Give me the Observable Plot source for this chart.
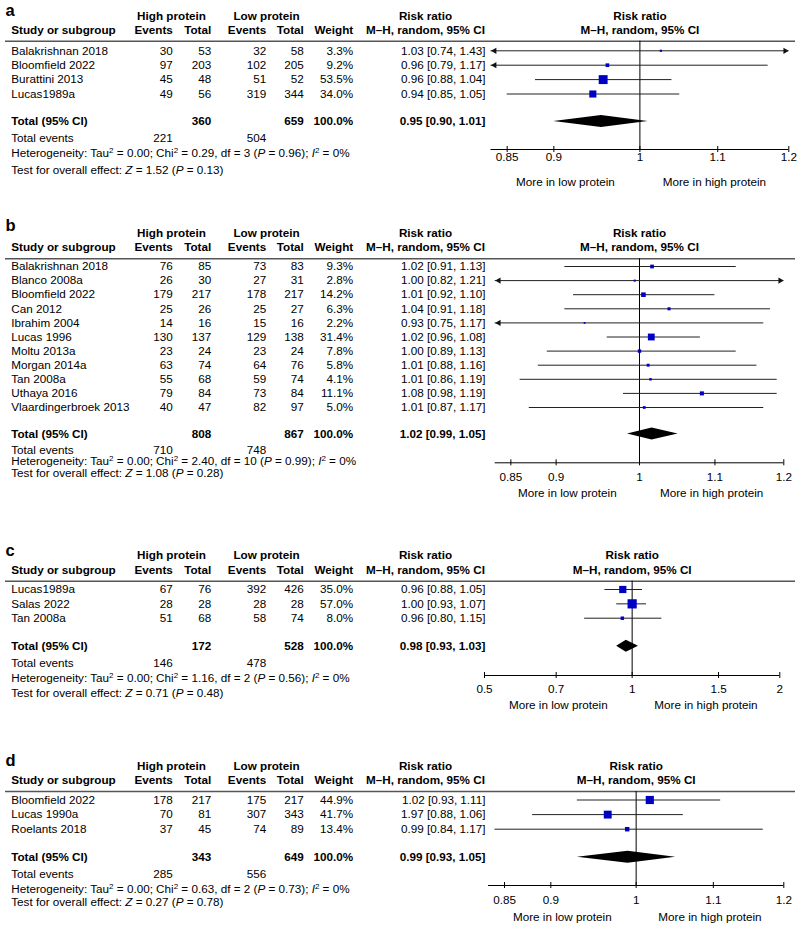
<!DOCTYPE html>
<html><head><meta charset="utf-8">
<script src="https://cdn.jsdelivr.net/npm/d3@7"></script>
<script src="https://cdn.jsdelivr.net/npm/@observablehq/plot@0.6"></script>
<style>
body{margin:0;background:#fff;}
#chart{width:798px;}
#chart svg{display:block;}
</style></head><body><div id="chart"></div>
<script>
// ---------- Panel a ----------
const studiesA = ["Balakrishnan 2018","Bloomfield 2022","Burattini 2013","Lucas1989a"];
const highEventsA = [30, 97, 45, 49];
const highTotalA  = [53, 203, 48, 56];
const lowEventsA  = [32, 102, 51, 319];
const lowTotalA   = [58, 205, 52, 344];
const weightA     = [3.3, 9.2, 53.5, 34.0];
const rrA         = [1.03, 0.96, 0.96, 0.94];
const lowerA      = [0.74, 0.79, 0.88, 0.85];
const upperA      = [1.43, 1.17, 1.04, 1.05];
const pointA      = [1.026, 0.961, 0.956, 0.944];
const totalA = {high:360, low:659, rr:0.95, lower:0.90, upper:1.01, point:0.954, eventsHigh:221, eventsLow:504, chi2:0.29, df:3, pHet:0.96, i2:0, z:1.52, pZ:0.13};

// ---------- Panel b ----------
const studiesB = ["Balakrishnan 2018","Blanco 2008a","Bloomfield 2022","Can 2012","Ibrahim 2004","Lucas 1996","Moltu 2013a","Morgan 2014a","Tan 2008a","Uthaya 2016","Vlaardingerbroek 2013"];
const highEventsB = [76, 26, 179, 25, 14, 130, 23, 63, 55, 79, 40];
const highTotalB  = [85, 30, 217, 26, 16, 137, 24, 74, 68, 84, 47];
const lowEventsB  = [73, 27, 178, 25, 15, 129, 23, 64, 59, 73, 82];
const lowTotalB   = [83, 31, 217, 27, 16, 138, 24, 76, 74, 84, 97];
const weightB     = [9.3, 2.8, 14.2, 6.3, 2.2, 31.4, 7.8, 5.8, 4.1, 11.1, 5.0];
const rrB         = [1.02, 1.00, 1.01, 1.04, 0.93, 1.02, 1.00, 1.01, 1.01, 1.08, 1.01];
const lowerB      = [0.91, 0.82, 0.92, 0.91, 0.75, 0.96, 0.89, 0.88, 0.86, 0.98, 0.87];
const upperB      = [1.13, 1.21, 1.10, 1.18, 1.17, 1.08, 1.13, 1.16, 1.19, 1.19, 1.17];
const pointB      = [1.016, 0.994, 1.005, 1.038, 0.933, 1.015, 1.0, 1.011, 1.014, 1.082, 1.006];
const totalB = {high:808, low:867, rr:1.02, lower:0.99, upper:1.05, point:1.016, drawLower:0.985, eventsHigh:710, eventsLow:748, chi2:2.40, df:10, pHet:0.99, i2:0, z:1.08, pZ:0.28};

// ---------- Panel c ----------
const studiesC = ["Lucas1989a","Salas 2022","Tan 2008a"];
const highEventsC = [67, 28, 51];
const highTotalC  = [76, 28, 68];
const lowEventsC  = [392, 28, 58];
const lowTotalC   = [426, 28, 74];
const weightC     = [35.0, 57.0, 8.0];
const rrC         = [0.96, 1.00, 0.96];
const lowerC      = [0.88, 0.93, 0.80];
const upperC      = [1.05, 1.07, 1.15];
const pointC      = [0.957, 1.0, 0.955];
const totalC = {high:172, low:528, rr:0.98, lower:0.93, upper:1.03, point:0.973, eventsHigh:146, eventsLow:478, chi2:1.16, df:2, pHet:0.56, i2:0, z:0.71, pZ:0.48};

// ---------- Panel d ----------
const studiesD = ["Bloomfield 2022","Lucas 1990a","Roelants 2018"];
const highEventsD = [178, 70, 37];
const highTotalD  = [217, 81, 45];
const lowEventsD  = [175, 307, 74];
const lowTotalD   = [217, 343, 89];
const weightD     = [44.9, 41.7, 13.4];
const rrD         = [1.02, 1.97, 0.99];
const lowerD      = [0.93, 0.88, 0.84];
const upperD      = [1.11, 1.06, 1.17];
const pointD      = [1.017, 0.9655, 0.989];
const totalD = {high:343, low:649, rr:0.99, lower:0.93, upper:1.05, point:0.99, eventsHigh:285, eventsLow:556, chi2:0.63, df:2, pHet:0.73, i2:0, z:0.27, pZ:0.78};

// ---------- Axis ticks ----------
const ticksNarrow = [0.85, 0.9, 1, 1.1, 1.2];
const tickLabelsNarrow = ["0.85", "0.9", "1", "1.1", "1.2"];
const ticksWide = [0.5, 0.7, 1, 1.5, 2];
const tickLabelsWide = ["0.5", "0.7", "1", "1.5", "2"];

const FONT = '"Liberation Sans", Arial, Helvetica, sans-serif';
const BLUE = "#0000c4";

const panels = [
  {label:"a", studies:studiesA, he:highEventsA, ht:highTotalA, le:lowEventsA, lt:lowTotalA, w:weightA, rr:rrA, lo:lowerA, hi:upperA, pt:pointA, total:totalA, ticks:ticksNarrow, tickLabels:tickLabelsNarrow},
  {label:"b", studies:studiesB, he:highEventsB, ht:highTotalB, le:lowEventsB, lt:lowTotalB, w:weightB, rr:rrB, lo:lowerB, hi:upperB, pt:pointB, total:totalB, ticks:ticksNarrow, tickLabels:tickLabelsNarrow},
  {label:"c", studies:studiesC, he:highEventsC, ht:highTotalC, le:lowEventsC, lt:lowTotalC, w:weightC, rr:rrC, lo:lowerC, hi:upperC, pt:pointC, total:totalC, ticks:ticksWide, tickLabels:tickLabelsWide},
  {label:"d", studies:studiesD, he:highEventsD, ht:highTotalD, le:lowEventsD, lt:lowTotalD, w:weightD, rr:rrD, lo:lowerD, hi:upperD, pt:pointD, total:totalD, ticks:ticksNarrow, tickLabels:tickLabelsNarrow}
];

// layout (absolute page pixels)
const layouts = [
  {top:0,   height:205, first:50.3,  step:14.4,  range:[490.5,788.3], domain:[1/1.2,1.2], lab:10,  h1:15.7,  h2:30,    rule:40.7,  total:121,   te:137.3, het:152.3, test:169.3, axis:149,   tl:157,   more:181.7},
  {top:205, height:330, first:266,   step:14.1,  range:[494.7,783.3], domain:[1/1.2,1.2], lab:225, h1:232.7, h2:246.7, rule:258.3, total:433.5, te:449.5, het:461,   test:472.5, axis:462.3, tl:476.7, more:492.7},
  {top:535, height:210, first:589,   step:14.35, range:[484,779.3],   domain:[0.5,2],     lab:550, h1:555,   h2:570,   rule:580.7, total:645.7, te:662.7, het:677.5, test:692.3, axis:675,   tl:688.3, more:705},
  {top:745, height:181, first:799.5, step:14.6,  range:[488,783.3],   domain:[1/1.2,1.2], lab:760, h1:765.7, h2:779.3, rule:791,   total:856.7, te:873.3, het:888.3, test:901.7, axis:885,   tl:900,   more:916.7}
];

// column anchors (px)
const COL = {name:10.7, he:172.3, ht:210.7, le:265.7, lt:303.3, w:352.7, rr:485, highHead:171, lowHead:266, rrHead:425};

function richify(svg){
  const ns = "http://www.w3.org/2000/svg";
  svg.querySelectorAll("text").forEach(t => {
    const s = t.textContent;
    if (!/[*^]/.test(s)) return;
    const segs = [];
    let buf = "", italic = false;
    for (let i = 0; i < s.length; i++) {
      const ch = s[i];
      if (ch === "*") { if (buf) segs.push({text:buf, italic}); buf = ""; italic = !italic; }
      else if (ch === "^") { if (buf) segs.push({text:buf, italic}); buf = ""; segs.push({text:s[i+1], italic:false, sup:true}); i++; }
      else buf += ch;
    }
    if (buf) segs.push({text:buf, italic});
    t.textContent = "";
    let prevSup = false;
    segs.forEach(sg => {
      const ts = document.createElementNS(ns, "tspan");
      ts.textContent = sg.text;
      if (sg.italic) ts.setAttribute("font-style", "italic");
      if (sg.sup) { ts.setAttribute("font-size", "8px"); ts.setAttribute("dy", "-4"); }
      else if (prevSup) ts.setAttribute("dy", "4");
      prevSup = !!sg.sup;
      t.appendChild(ts);
    });
  });
}

function buildPanel(P, L){
  const [dmin, dmax] = L.domain;
  const yr = px => (px - L.first) / L.step;
  const rows = P.studies.map((name, i) => ({
    row: i, name, he: P.he[i], ht: P.ht[i], le: P.le[i], lt: P.lt[i],
    w: P.w[i], wLabel: P.w[i].toFixed(1) + "%",
    rrLabel: `${P.rr[i].toFixed(2)} [${P.lo[i].toFixed(2)}, ${P.hi[i].toFixed(2)}]`,
    point: P.pt[i], lo: P.lo[i], hi: P.hi[i],
    x1: Math.max(P.lo[i], dmin), x2: Math.min(P.hi[i], dmax)
  }));
  const T = P.total;
  const tr = yr(L.total);
  const hh = 6 / L.step;
  const dLo = T.drawLower ?? T.lower;
  const diamond = [{x:dLo, y1:tr, y2:tr}, {x:T.point, y1:tr-hh, y2:tr+hh}, {x:T.upper, y1:tr, y2:tr}];
  const ML = 5;
  const one = [0];
  const at = v => () => v;
  const txt = (px, y, text, opts = {}) => Plot.text(one, {frameAnchor:"left", dx: px - ML, y: at(y), text: at(text), textAnchor:"start", ...opts});
  const colText = (key, px, anchor = "end", opts = {}) => Plot.text(rows, {frameAnchor:"left", dx: px - ML, y:"row", text:key, textAnchor:anchor, ...opts});
  const center = Math.sqrt(dmin * dmax);
  const ay = yr(L.axis);
  const tk = 3 / L.step;
  const B = {fontWeight:"bold"};

  const marks = [
    Plot.ruleY(one, {y: at(yr(L.rule)), stroke:"#555", strokeWidth:1.5}),
    txt(5, yr(L.lab), P.label, {fontWeight:"bold", fontSize:16.5}),
    txt(COL.highHead, yr(L.h1), "High protein", {textAnchor:"middle", ...B}),
    txt(COL.lowHead, yr(L.h1), "Low protein", {textAnchor:"middle", ...B}),
    txt(COL.rrHead, yr(L.h1), "Risk ratio", {textAnchor:"middle", ...B}),
    txt(COL.name, yr(L.h2), "Study or subgroup", B),
    txt(COL.he, yr(L.h2), "Events", {textAnchor:"end", ...B}),
    txt(COL.ht, yr(L.h2), "Total", {textAnchor:"end", ...B}),
    txt(COL.le, yr(L.h2), "Events", {textAnchor:"end", ...B}),
    txt(COL.lt, yr(L.h2), "Total", {textAnchor:"end", ...B}),
    txt(COL.w, yr(L.h2), "Weight", {textAnchor:"end", ...B}),
    txt(COL.rrHead, yr(L.h2), "M–H, random, 95% CI", {textAnchor:"middle", ...B}),
    Plot.text(["Risk ratio", "M–H, random, 95% CI"], {x: at(center), y: (d, i) => i ? yr(L.h2) : yr(L.h1), text: d => d, fontWeight:"bold"}),
    colText("name", COL.name, "start"),
    colText("he", COL.he),
    colText("ht", COL.ht),
    colText("le", COL.le),
    colText("lt", COL.lt),
    colText("wLabel", COL.w),
    colText("rrLabel", COL.rr),
    txt(COL.name, tr, "Total (95% CI)", B),
    txt(COL.ht, tr, String(T.high), {textAnchor:"end", ...B}),
    txt(COL.lt, tr, String(T.low), {textAnchor:"end", ...B}),
    txt(COL.w, tr, "100.0%", {textAnchor:"end", ...B}),
    txt(COL.rr, tr, `${T.rr.toFixed(2)} [${T.lower.toFixed(2)}, ${T.upper.toFixed(2)}]`, {textAnchor:"end", ...B}),
    txt(COL.name, yr(L.te), "Total events"),
    txt(COL.he, yr(L.te), String(T.eventsHigh), {textAnchor:"end"}),
    txt(COL.le, yr(L.te), String(T.eventsLow), {textAnchor:"end"}),
    txt(COL.name, yr(L.het), `Heterogeneity: Tau^2 = 0.00; Chi^2 = ${T.chi2.toFixed(2)}, df = ${T.df} (*P* = ${T.pHet.toFixed(2)}); *I*^2 = ${T.i2}%`),
    txt(COL.name, yr(L.test), `Test for overall effect: *Z* = ${T.z.toFixed(2)} (*P* = ${T.pZ.toFixed(2)})`),
    Plot.ruleX([1], {x: d => d, y1: at(yr(L.rule)), y2: at(ay), stroke:"#000", strokeWidth:1}),
    Plot.ruleY(rows, {y:"row", x1:"x1", x2:"x2", stroke:"#222", strokeWidth:1}),
    Plot.dot(rows.filter(d => d.lo < dmin), {x: at(dmin), y:"row", symbol:"triangle", rotate:-90, r:2.3, fill:"#111", stroke:"none", dx:3.6}),
    Plot.dot(rows.filter(d => d.hi > dmax), {x: at(dmax), y:"row", symbol:"triangle", rotate:90, r:2.3, fill:"#111", stroke:"none", dx:-3.6}),
    Plot.dot(rows, {x:"point", y:"row", r:"w", symbol:"square", fill:BLUE, stroke:"none"}),
    Plot.areaY(diamond, {x:"x", y1:"y1", y2:"y2", fill:"#000", curve:"linear"}),
    Plot.ruleY(one, {y: at(ay), x1: at(dmin), x2: at(dmax), stroke:"#000", strokeWidth:1}),
    Plot.ruleX(P.ticks, {x: d => d, y1: at(ay - tk), y2: at(ay + tk), stroke:"#000", strokeWidth:1}),
    Plot.text(P.ticks, {x: d => d, y: at(yr(L.tl)), text: (d, i) => P.tickLabels[i]}),
    Plot.text(["More in low protein", "More in high protein"], {x: (d, i) => i ? Math.sqrt(dmax) : Math.sqrt(dmin), y: at(yr(L.more)), text: d => d})
  ];

  const svg = Plot.plot({
    width: 798,
    height: L.height,
    marginLeft: ML, marginRight: 3, marginTop: 0, marginBottom: 0,
    style: {fontFamily: FONT, fontSize: "11.7px", color: "#000", background: "#fff", overflow: "visible"},
    x: {type:"log", domain: L.domain, range: L.range, axis: null},
    y: {type:"linear", domain:[0, 1], range:[L.first - L.top, L.first - L.top + L.step], axis: null},
    r: {type:"sqrt", domain:[0, 100], range:[0, 6.88]},
    marks
  });
  richify(svg);
  return svg;
}

const chart = document.getElementById("chart");
panels.forEach((P, i) => chart.appendChild(buildPanel(P, layouts[i])));
</script>
</body></html>
